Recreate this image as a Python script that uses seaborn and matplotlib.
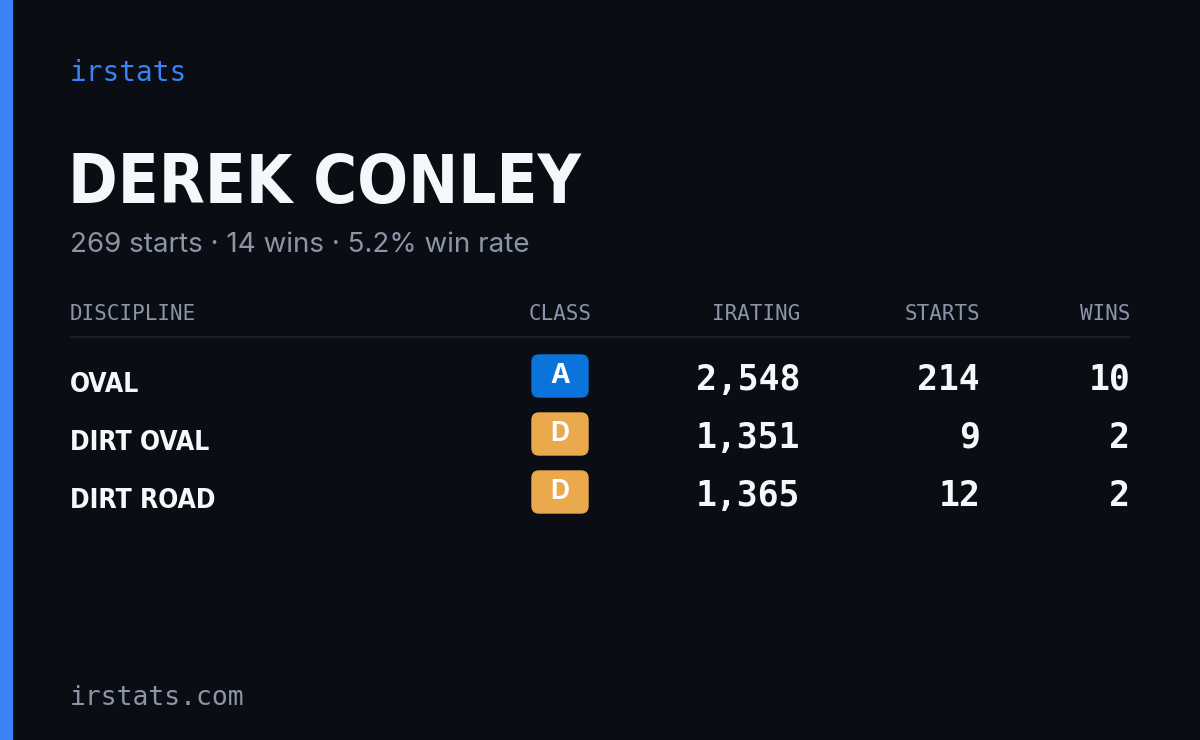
import matplotlib
matplotlib.use("Agg")
import matplotlib.pyplot as plt
from matplotlib.patches import FancyBboxPatch, Rectangle
import seaborn as sns

sns.set_theme(style="white")

# card content
brand = "irstats"
driver = "DEREK CONLEY"
summary = "269 starts · 14 wins · 5.2% win rate"
columns = ["DISCIPLINE", "CLASS", "IRATING", "STARTS", "WINS"]
disciplines = ["OVAL", "DIRT OVAL", "DIRT ROAD"]
classes = ["A", "D", "D"]
iratings = [2548, 1351, 1365]
starts = [214, 9, 12]
wins = [10, 2, 2]
footer = "irstats.com"

BG = "#0a0d14"
ACCENT = "#3b82f6"
MUTED = "#8b95a7"
WHITE = "#f5f7fa"
CLASS_COLORS = {"A": "#0a74da", "D": "#e9a94c"}
MONO = "DejaVu Sans Mono"
NARROW = "DejaVu Sans"

fig = plt.figure(figsize=(12, 7.4), dpi=100, facecolor=BG)
ax = fig.add_axes([0, 0, 1, 1])
ax.set_xlim(0, 1200)
ax.set_ylim(740, 0)
ax.axis("off")
ax.set_facecolor(BG)

ax.add_patch(Rectangle((0, 0), 12, 740, color=ACCENT))

ax.text(70, 73, brand, color=ACCENT, fontsize=20, family=MONO, va="center")
ax.text(68, 184, driver, color=WHITE, fontsize=48, family=NARROW,
        fontstretch="condensed", fontweight="bold", va="center")
ax.text(70, 245, summary, color=MUTED, fontsize=20, family="Inter", va="center")

# header
col_x = [70, 560, 800, 980, 1130]
col_ha = ["left", "center", "right", "right", "right"]
for name, x, ha in zip(columns, col_x, col_ha):
    ax.text(x, 314, name, color=MUTED, fontsize=15, family=MONO, ha=ha, va="center")
ax.plot([70, 1130], [337, 337], color="#1e2430", lw=1.2)

row_y0, row_step = 380, 58
for i, (disc, cls, ir, st, w) in enumerate(zip(disciplines, classes, iratings, starts, wins)):
    y = row_y0 + i * row_step
    ax.text(70, y + 5, disc, color=WHITE, fontsize=19, family=NARROW,
            fontstretch="condensed", fontweight="bold", va="center")
    ax.add_patch(FancyBboxPatch((532, y - 25), 56, 42,
                                boxstyle="round,pad=0,rounding_size=7",
                                color=CLASS_COLORS[cls]))
    ax.text(560, y - 4, cls, color="white", fontsize=19, family="Inter",
            fontweight="bold", ha="center", va="center")
    ax.text(800, y, f"{ir:,}", color=WHITE, fontsize=25, family=MONO,
            fontweight="bold", ha="right", va="center")
    ax.text(980, y, f"{st}", color=WHITE, fontsize=25, family=MONO,
            fontweight="bold", ha="right", va="center")
    ax.text(1130, y, f"{w}", color=WHITE, fontsize=25, family=MONO,
            fontweight="bold", ha="right", va="center")

ax.text(70, 698, footer, color=MUTED, fontsize=19, family=MONO, va="center")

fig.savefig("out.png", dpi=100, facecolor=BG)
